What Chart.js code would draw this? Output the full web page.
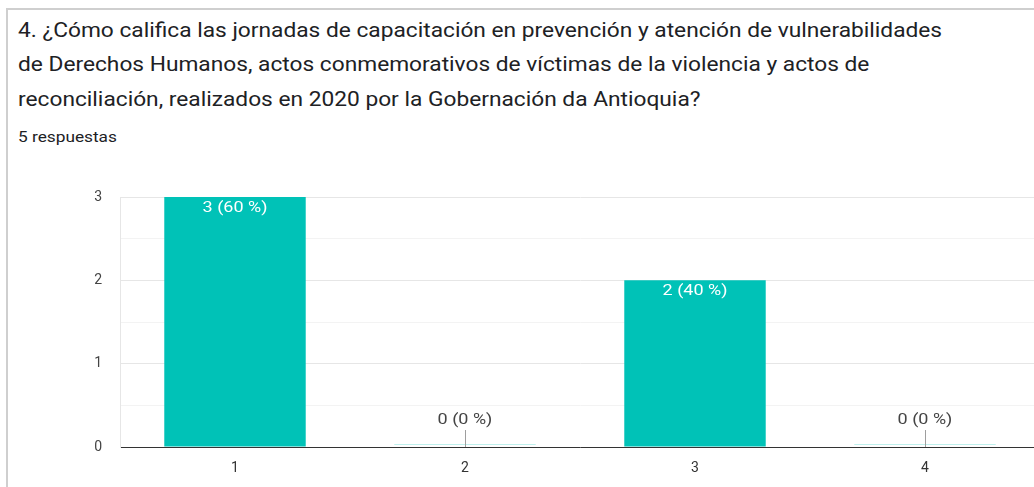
<!DOCTYPE html>
<html>
<head>
<meta charset="utf-8">
<script src="https://cdn.jsdelivr.net/npm/chart.js@4"></script>
<style>
  html, body { margin:0; padding:0; width:1034px; height:487px; overflow:hidden; background:#fff; }
  #card { position:absolute; left:6px; top:8px; width:1100px; height:600px; border-top:2px solid #cfcfcf; border-left:2px solid #cfcfcf; }
  #title { position:absolute; left:18px; top:14px; width:1000px; font-family:Roboto, sans-serif; font-size:19.5px; line-height:34.3px; color:#202124; transform:scaleX(1.165); transform-origin:0 0; white-space:nowrap; }
  #sub { position:absolute; left:18px; top:128px; font-family:Roboto, sans-serif; font-size:15px; color:#202124; transform:scaleX(1.15); transform-origin:0 0; white-space:nowrap; }
  #wrap { position:absolute; left:0; top:160px; width:1050px; height:327px; }
</style>
</head>
<body>
<div id="card"></div>
<div id="title">4. ¿Cómo califica las jornadas de capacitación en prevención y atención de vulnerabilidades<br>de Derechos Humanos, actos conmemorativos de víctimas de la violencia y actos de<br>reconciliación, realizados en 2020 por la Gobernación da Antioquia?</div>
<div id="sub">5 respuestas</div>
<div id="wrap"><canvas id="c" width="1050" height="327"></canvas></div>
<script>
const categories = ['1', '2', '3', '4'];
const counts = [3, 0, 2, 0];
const pointLabels = ['3 (60 %)', '0 (0 %)', '2 (40 %)', '0 (0 %)'];
const yTicks = [0, 1, 2, 3];

const labelPlugin = {
  id: 'barLabels',
  afterDatasetsDraw(chart) {
    const ctx = chart.ctx;
    const meta = chart.getDatasetMeta(0);
    const sx = 1.2;
    const drawText = (txt, x, y, color) => {
      ctx.save();
      ctx.translate(x, y);
      ctx.scale(sx, 1);
      ctx.fillStyle = color;
      ctx.fillText(txt, 0, 0);
      ctx.restore();
    };
    ctx.save();
    ctx.font = '15px Roboto, sans-serif';
    ctx.textAlign = 'center';
    ctx.textBaseline = 'middle';
    meta.data.forEach((bar, i) => {
      const v = counts[i];
      if (v > 0) {
        drawText(pointLabels[i], bar.x, bar.y + 11, '#ffffff');
      } else {
        const base = bar.base;
        ctx.fillStyle = 'rgba(0,194,183,0.25)';
        ctx.fillRect(bar.x - bar.width / 2, base - 3, bar.width, 1);
        ctx.strokeStyle = '#9e9e9e';
        ctx.lineWidth = 1;
        ctx.beginPath();
        ctx.moveTo(Math.round(bar.x) + 0.5, base - 17);
        ctx.lineTo(Math.round(bar.x) + 0.5, base);
        ctx.stroke();
        drawText(pointLabels[i], bar.x, base - 27, '#444444');
      }
    });
    ctx.restore();
  }
};

new Chart(document.getElementById('c'), {
  type: 'bar',
  data: {
    labels: categories,
    datasets: [{
      data: counts,
      backgroundColor: '#00c2b7',
      borderWidth: 0,
      categoryPercentage: 1,
      barPercentage: 0.615
    }]
  },
  options: {
    responsive: false,
    animation: false,
    layout: { padding: { top: 37, right: 10, left: 0, bottom: 0 } },
    plugins: { legend: { display: false }, tooltip: { enabled: false } },
    scales: {
      x: {
        grid: { display: false },
        border: { color: '#333333', width: 1 },
        ticks: { color: '#333333', font: { family: 'Roboto, sans-serif', size: 14 }, padding: 5 },
        afterFit(s) { s.height = 40; }
      },
      y: {
        min: 0, max: 3,
        afterBuildTicks(s) {
          const t = [];
          for (let v = 0; v <= 3; v += 0.5) t.push({ value: v });
          s.ticks = t;
        },
        grid: {
          color: (c) => (c.tick && Number.isInteger(c.tick.value)) ? '#e6e6e6' : '#f3f3f3',
          drawTicks: false
        },
        border: { color: '#e6e6e6' },
        ticks: {
          color: '#444444',
          font: { family: 'Roboto, sans-serif', size: 14 },
          padding: 18,
          callback: (v) => yTicks.includes(v) ? String(v) : ''
        },
        afterFit(s) { s.width = 120; }
      }
    }
  },
  plugins: [labelPlugin]
});
</script>
</body>
</html>
